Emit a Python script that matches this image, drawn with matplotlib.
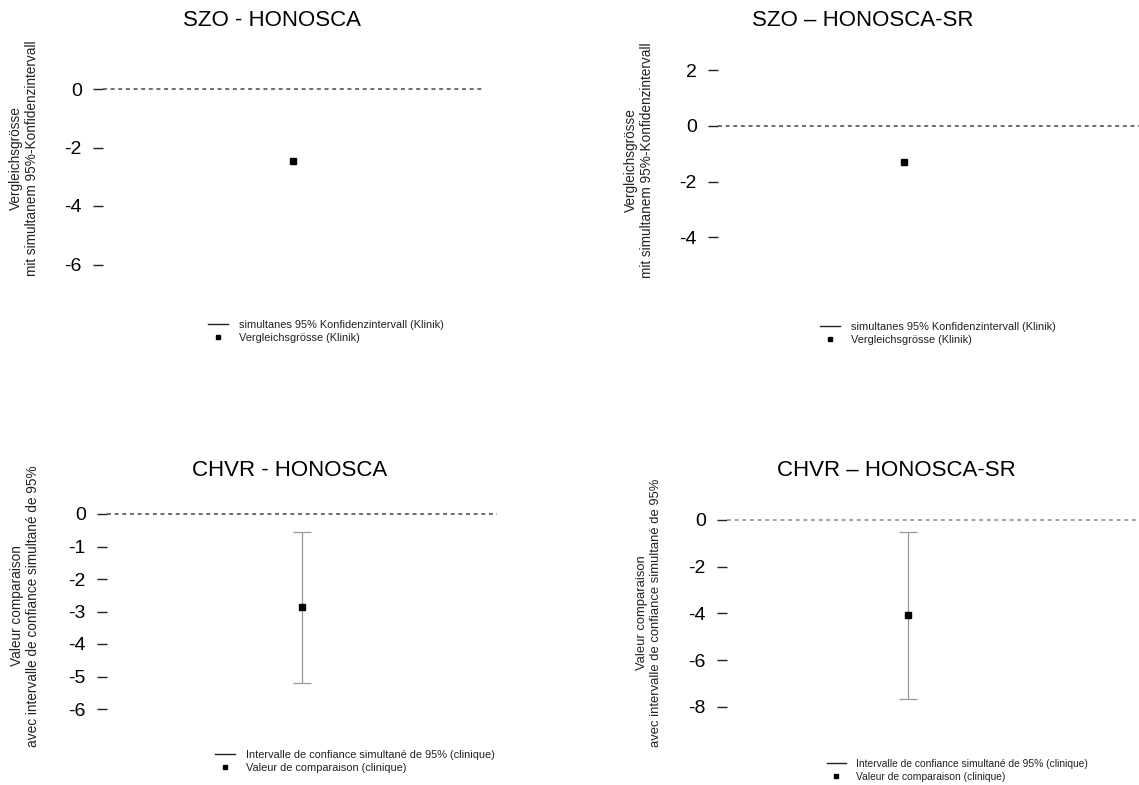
#
# four panel comparison plot, SZO / CHVR, HONOSCA and HONOSCA-SR
#

import matplotlib
matplotlib.use('Agg')
from matplotlib import pyplot as plt
from matplotlib.lines import Line2D

W, H = 1139, 785

plt.rcParams['font.family'] = ['Liberation Sans', 'DejaVu Sans']

# data
titles = ['SZO - HONOSCA', 'SZO \u2013 HONOSCA-SR',
          'CHVR - HONOSCA', 'CHVR \u2013 HONOSCA-SR']
values = [-2.45, -1.29, -2.86, -4.07]
ci_low = [None, None, -5.2, -7.67]
ci_high = [None, None, -0.55, -0.51]
yticks = [[0, -2, -4, -6], [2, 0, -2, -4],
          [0, -1, -2, -3, -4, -5, -6], [0, -2, -4, -6, -8]]
ylabels_de = 'Vergleichsgrösse\nmit simultanem 95%-Konfidenzintervall'
ylabels_fr = 'Valeur comparaison\navec intervalle de confiance simultané de 95%'
ylabels = [ylabels_de, ylabels_de, ylabels_fr, ylabels_fr]
leg_de = ['simultanes 95% Konfidenzintervall (Klinik)', 'Vergleichsgrösse (Klinik)']
leg_fr = ['Intervalle de confiance simultané de 95% (clinique)',
          'Valeur de comparaison (clinique)']
legends = [leg_de, leg_de, leg_fr, leg_fr]

# layout in pixels: axes left, right, pixel of y=0, px per unit, ylim
layout = [
    dict(left=103, right=483, y0=89, scale=29.25, ylim=(-7.5, 1.0), xmax=1.0,
         title=(272, 21), ylab=(24, 158), leg=(208, 320), dash='#444444',
         labfs=9.8, legfs=7.9),
    dict(left=718, right=1139, y0=126, scale=27.85, ylim=(-5.5, 3.0), xmax=1.13,
         title=(863, 21), ylab=(639, 160), leg=(820, 322), dash='#444444',
         labfs=9.8, legfs=7.9),
    dict(left=107, right=497, y0=514, scale=32.5, ylim=(-6.8, 0.6), xmax=1.0,
         title=(290, 471), ylab=(25, 606), leg=(215, 750), dash='#444444',
         labfs=9.8, legfs=7.9),
    dict(left=727, right=1139, y0=520, scale=23.35, ylim=(-9.0, 0.6), xmax=1.14,
         title=(896, 470), ylab=(649, 613), leg=(827, 759), dash='#888888',
         labfs=9.4, legfs=7.4),
]


def fx(x):
    return x / W


def fy(y):
    return 1 - y / H


fig = plt.figure(figsize=(W / 100, H / 100), dpi=100)

for i in range(4):
    lo = layout[i]
    top = lo['y0'] - lo['ylim'][1] * lo['scale']
    bot = lo['y0'] - lo['ylim'][0] * lo['scale']
    ax = fig.add_axes([fx(lo['left']), fy(bot),
                       (lo['right'] - lo['left']) / W, (bot - top) / H])
    ax.set_ylim(lo['ylim'])
    ax.set_xlim(0, lo['xmax'])
    for s in ax.spines.values():
        s.set_visible(False)
    ax.set_xticks([])
    ax.set_yticks(yticks[i])
    ax.set_yticklabels([str(t) for t in yticks[i]])
    ax.tick_params(axis='y', length=7.2, width=1.0, pad=8, labelsize=14,
                   color='#222222')

    ax.axhline(0, color=lo['dash'], lw=1.1, ls=(0, (2.6, 2.4)))

    if ci_low[i] is not None:
        ax.errorbar([0.5], [values[i]],
                    yerr=[[values[i] - ci_low[i]], [ci_high[i] - values[i]]],
                    fmt='none', ecolor='#999999', elinewidth=0.9,
                    capsize=6.5, capthick=0.9)
    ax.plot([0.5], [values[i]], marker='s', ms=4.3, color='black', ls='none')

    fig.text(fx(lo['title'][0]), fy(lo['title'][1]), titles[i],
             ha='center', va='center', fontsize=16)
    fig.text(fx(lo['ylab'][0]), fy(lo['ylab'][1]), ylabels[i],
             ha='center', va='center', rotation=90, fontsize=lo['labfs'],
             linespacing=1.2, color='#222222')

    handles = [Line2D([], [], color='#222222', lw=1.0),
               Line2D([], [], color='black', marker='s', ms=3.5, ls='none')]
    fig.legend(handles, legends[i], loc='upper left',
               bbox_to_anchor=(fx(lo['leg'][0]), fy(lo['leg'][1])),
               frameon=False, fontsize=lo['legfs'], handlelength=1.8,
               handletextpad=1.0, borderpad=0, borderaxespad=0,
               labelspacing=0.3, labelcolor='#222222')

plt.savefig('out.png', dpi=100)
